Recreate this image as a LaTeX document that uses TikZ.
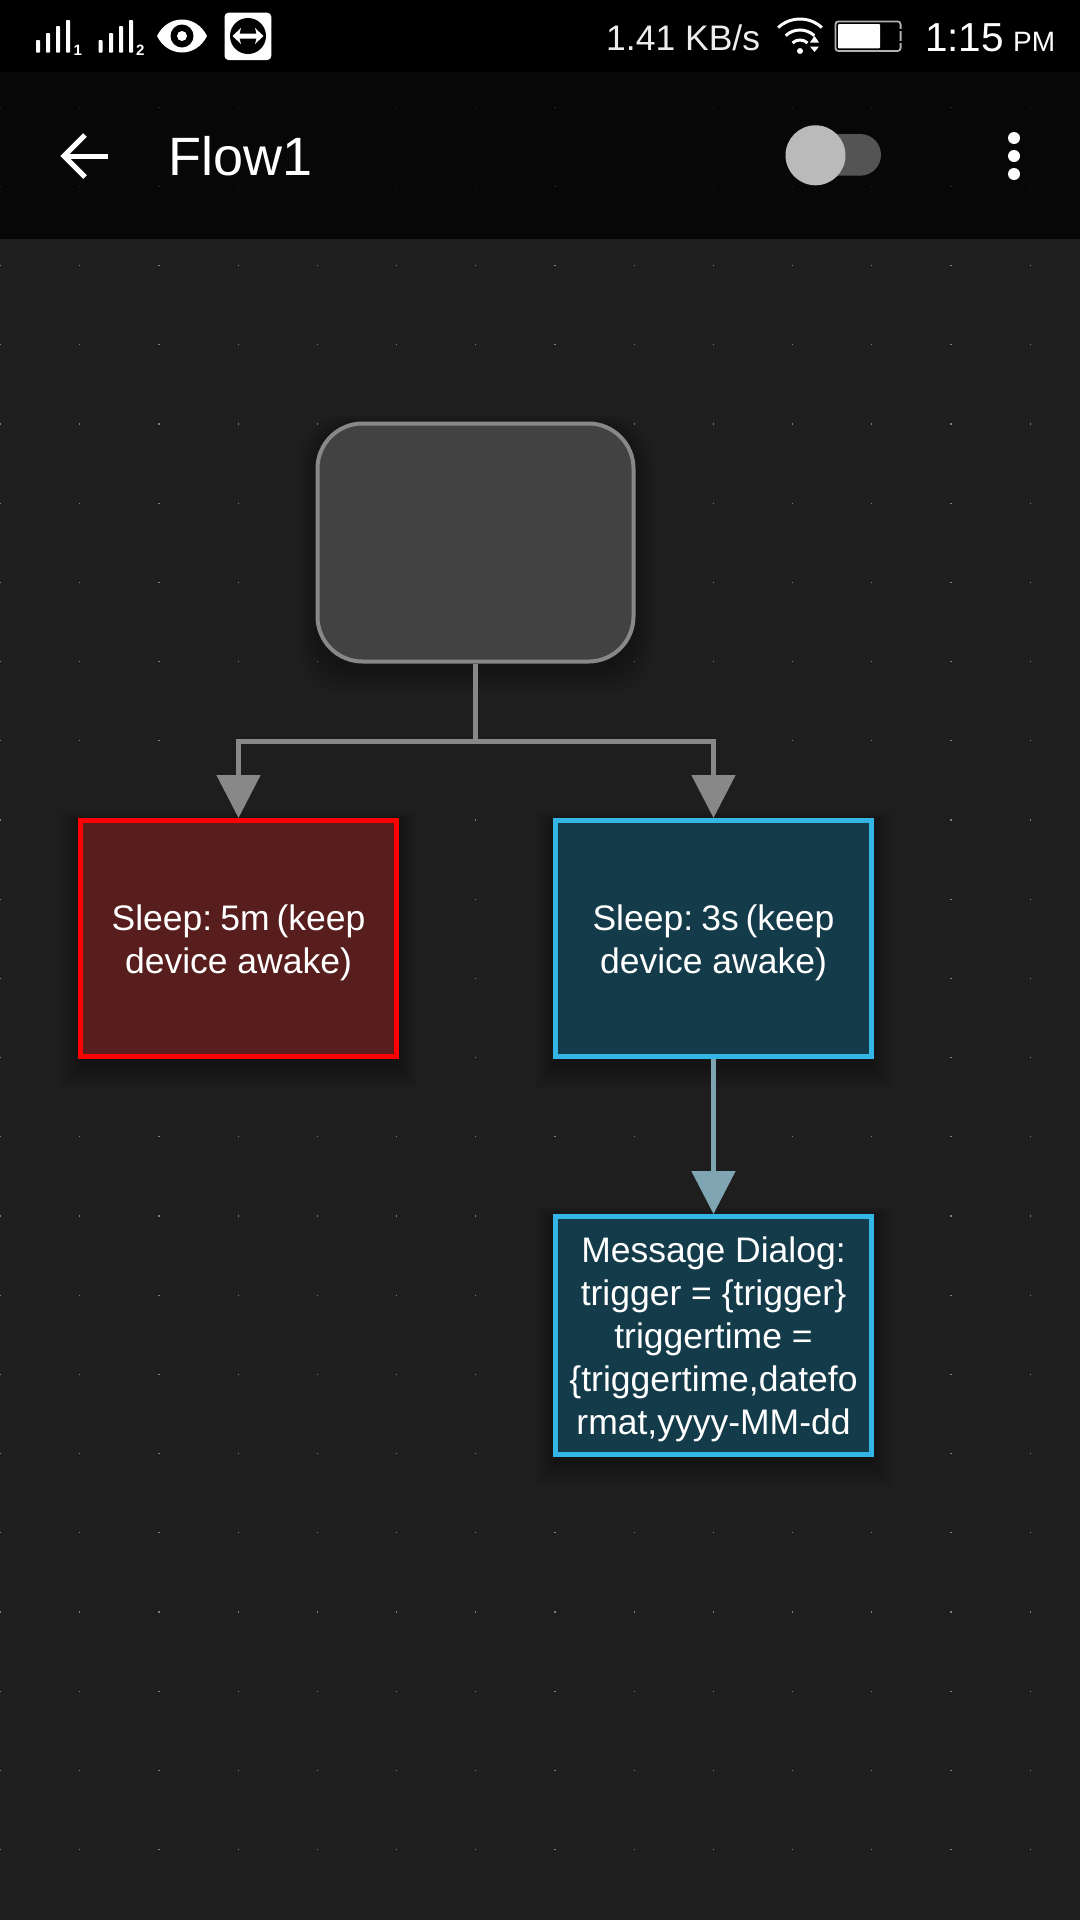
\documentclass[tikz,border=0pt]{standalone}
\usepackage{fontspec}
\setmainfont{Liberation Sans}
\usetikzlibrary{arrows.meta}
\definecolor{canvas}{HTML}{1E1E1E}
\definecolor{bar}{HTML}{070707}
\definecolor{griddot}{HTML}{808080}
\definecolor{bardot}{HTML}{262626}
\definecolor{greyline}{HTML}{888888}
\definecolor{greyfill}{HTML}{424242}
\definecolor{redline}{HTML}{FF0000}
\definecolor{redfill}{HTML}{581E1E}
\definecolor{blueline}{HTML}{33B5E5}
\definecolor{bluefill}{HTML}{133B4A}
\definecolor{bluearrow}{HTML}{7FA5B3}
\newcommand{\softshadow}[5]{%
  \foreach \n in {1,...,10}{%
    \fill[black,opacity=0.016,rounded corners=#5]
      ({#1-20+2*\n},{#2-8+1*\n}) rectangle ({#3+20-2*\n},{#4+32-2.5*\n});
  }%
}
\newcommand{\topstrut}{\rule{0pt}{34.6pt}}
\tikzset{
  boxnode/.style={rectangle,draw,line width=5pt,inner sep=0pt,minimum width=316pt,minimum height=236pt,
    align=center,text=white,font=\fontsize{35.5}{43}\selectfont},
  rednode/.style={boxnode,draw=redline,fill=redfill},
  bluenode/.style={boxnode,draw=blueline,fill=bluefill},
  startnode/.style={rectangle,draw=greyline,fill=greyfill,line width=4pt,rounded corners=45pt,inner sep=0pt,
    minimum width=316pt,minimum height=238pt},
  conn/.style={draw=greyline,line width=5pt,-{Triangle[length=43pt,width=43pt,fill=greyline]}},
  connblue/.style={draw=bluearrow,line width=5pt,-{Triangle[length=43pt,width=43pt,fill=bluearrow]}},
  statustext/.style={text=white,inner sep=0pt,anchor=base west},
}
\begin{document}
\begin{tikzpicture}[x=1pt,y=-1pt]
\useasboundingbox (0,0) rectangle (1080,1920);
% backgrounds
\fill[canvas] (0,0) rectangle (1080,1920);
\foreach \i in {0,...,13}{\foreach \j in {0,...,21}{
  \fill[griddot] ({0.5+79.2*\i-0.6},{265.5+79.2*\j-0.6}) rectangle ++(1.2,1.2);
}}
\fill[bar] (0,72) rectangle (1080,238.5);
\fill[black] (0,0) rectangle (1080,72);
\foreach \i in {0,...,13}{\foreach \j in {0,1}{
  \fill[bardot] ({0.5+79.2*\i-0.6},{107.1+79.2*\j-0.6}) rectangle ++(1.2,1.2);
}}
% status bar: signal
\foreach \xx/\tp in {38/40,48/33,58/26,68/20,100.5/40,111/33,121/26,131/20}{
  \fill[white,rounded corners=0.8pt] ({\xx-2},\tp) rectangle ({\xx+2},52.7);
}
\node[statustext,font=\bfseries\fontsize{15}{15}\selectfont] (simone) at (73.5,55.5) {1};
\node[statustext,font=\bfseries\fontsize{15}{15}\selectfont] (simtwo) at (136,55.5) {2};
% eye
\fill[white] (157,36) .. controls (168,14) and (196,14) .. (207,36) .. controls (196,58) and (168,58) .. (157,36) -- cycle;
\fill[black] (182,36) circle (11.5pt);
\fill[white] (182,36) circle (5pt);
% teamviewer
\fill[white,rounded corners=4pt] (224.5,12.7) rectangle (271.3,60);
\fill[black] (248,36) circle (18pt);
\fill[white] (232.5,36) -- (241,28) -- (239.5,33.5) -- (256.5,33.5) -- (255,28) -- (263.5,36) -- (255,44) -- (256.5,38.5) -- (239.5,38.5) -- (241,44) -- cycle;
% speed
\node[statustext,font=\fontsize{35.5}{36}\selectfont,text=white!93!black] (speed) at (606,50) {1.41 KB/s};
% wifi
\foreach \r in {32,21,11}{
  \draw[white,line width=3pt] ([shift={(133:\r pt)}]800,51) arc[start angle=133,end angle=47,radius=\r pt];
}
\fill[white] (800,51) circle (3pt);
\fill[white] (810,42.5) -- (814.5,36) -- (819,42.5) -- cycle;
\fill[white] (810,46.5) -- (819,46.5) -- (814.5,52) -- cycle;
% battery
\draw[white!70!black,line width=1.8pt,rounded corners=3pt] (835.4,21.4) rectangle (900.6,51);
\fill[white,rounded corners=1pt] (838,24) rectangle (880,48.3);
\fill[black] (899,29) rectangle (902,31);
\fill[black] (899,41) rectangle (902,43);
% clock
\node[statustext,font=\fontsize{40.5}{40}\selectfont] (clock) at (925,51.7) {1:15};
\node[statustext,font=\fontsize{28}{28}\selectfont] (ampm) at (1013,51.7) {PM};
% toolbar
\draw[white,line width=5pt] (108,156) -- (65,156);
\draw[white,line width=5pt] (85,135) -- (64,156) -- (85,177);
\node[statustext,font=\fontsize{54}{54}\selectfont] (title) at (168,175.7) {Flow1};
\fill[white!33!black,rounded corners=20.8pt] (800,134) rectangle (881,175.7);
\fill[white!73!black] (815.5,155.3) circle (30pt);
\foreach \yy in {138,156,174}{\fill[white] (1014,\yy) circle (6pt);}
% shadows
\softshadow{316}{422}{636}{664}{45pt}
\softshadow{78}{818}{399}{1059}{2pt}
\softshadow{553}{818}{874}{1059}{2pt}
\softshadow{553}{1214}{874}{1457}{2pt}
% nodes
\node[startnode] (start) at (475.5,542.5) {};
\node[rednode] (sleepa) at (238.5,938.5) {\topstrut Sleep:\kern-5pt{} 5m \kern-3pt(keep\\device awake)};
\node[bluenode] (sleepb) at (713.5,938.5) {\topstrut Sleep:\kern-5pt{} 3s \kern-3pt(keep\\device awake)};
\node[bluenode,minimum height=237.5pt] (dialog) at (713.5,1335.3) {\topstrut Message Dialog:\\trigger = \{trigger\}\\triggertime =\\\{triggertime,datefo\\rmat,yyyy-MM-dd};
% connectors
\coordinate (split) at (475.5,741);
\draw[draw=greyline,line width=5pt] (start.south) -- (split);
\draw[conn] (split) -| (sleepa.north);
\draw[conn] (split) -| (sleepb.north);
\draw[connblue] (sleepb.south) -- (dialog.north);
\end{tikzpicture}
\end{document}
